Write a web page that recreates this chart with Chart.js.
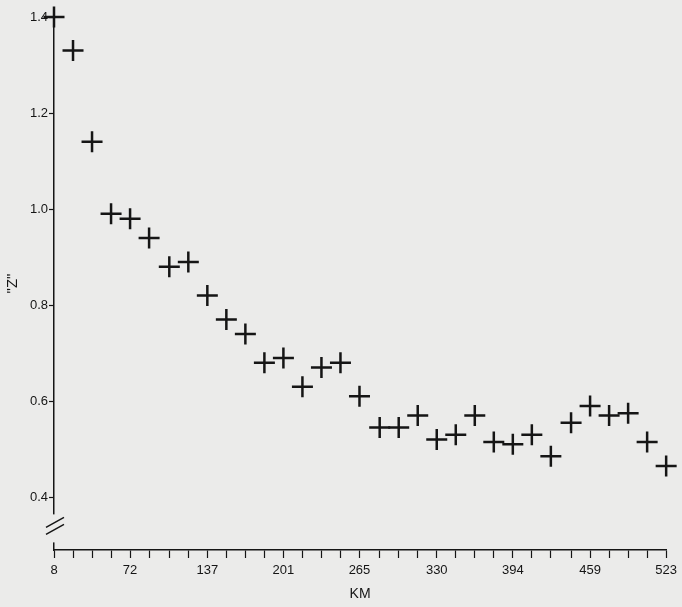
<!DOCTYPE html>
<html>

<head>
    <title>z_by_distance</title>
    <script src="https://cdn.jsdelivr.net/npm/chart.js"></script>
    <style>
        html, body {
            margin: 0;
            padding: 0;
            background: #ebebea;
        }
        #chartBox {
            width: 682px;
            height: 607px;
        }
    </style>
</head>

<body>
    <div id="chartBox"><canvas id="chartCanvas"></canvas></div>
    <script>
        // distance classes (km) and the Z value of each class
        const distanceKm = [8, 24, 40, 56, 72, 88, 105, 121, 137, 153, 169, 185, 201, 217, 233, 249, 265,
            282, 298, 314, 330, 346, 362, 378, 394, 410, 426, 443, 459, 475, 491, 507, 523];
        const zValues = [1.40, 1.33, 1.14, 0.99, 0.98, 0.94, 0.88, 0.89, 0.82, 0.77, 0.74, 0.68, 0.69,
            0.63, 0.67, 0.68, 0.61, 0.545, 0.545, 0.57, 0.52, 0.53, 0.57, 0.515, 0.51, 0.53, 0.485,
            0.555, 0.59, 0.57, 0.575, 0.515, 0.465];
        const xTickLabels = [8, 72, 137, 201, 265, 330, 394, 459, 523];
        const yTickValues = [0.4, 0.6, 0.8, 1.0, 1.2, 1.4];

        const ink = '#151515';
        const paper = '#ebebea';
        const font = { family: 'Liberation Sans, Arial, sans-serif', size: 13 };

        // axis break "//" near the bottom of the y axis
        const axisBreak = {
            id: 'axisBreak',
            afterDraw(chart) {
                const ctx = chart.ctx;
                const x = chart.scales.x.left;
                const yMid = chart.scales.y.getPixelForValue(0.335);
                ctx.save();
                ctx.fillStyle = paper;
                ctx.fillRect(x - 3, yMid - 14, 6, 28);
                ctx.strokeStyle = ink;
                ctx.lineWidth = 1.5;
                ctx.beginPath();
                ctx.moveTo(x - 8, yMid - 1);
                ctx.lineTo(x + 10, yMid - 11);
                ctx.moveTo(x - 8, yMid + 6);
                ctx.lineTo(x + 10, yMid - 4);
                ctx.stroke();
                ctx.restore();
            }
        };

        new Chart(document.getElementById('chartCanvas'), {
            type: 'scatter',
            data: {
                datasets: [{
                    data: distanceKm.map((km, i) => ({ x: km, y: zValues[i] })),
                    pointStyle: 'cross',
                    pointRadius: 10.5,
                    pointBorderWidth: 2.5,
                    borderColor: ink,
                    backgroundColor: ink,
                    clip: false
                }]
            },
            options: {
                responsive: true,
                maintainAspectRatio: false,
                animation: false,
                layout: { padding: { left: 4, right: 12, top: 17, bottom: 0 } },
                plugins: { legend: { display: false }, tooltip: { enabled: false } },
                scales: {
                    x: {
                        type: 'linear',
                        min: 8,
                        max: 523,
                        afterBuildTicks: (scale) => {
                            scale.ticks = distanceKm.map(v => ({ value: v }));
                        },
                        afterFit: (scale) => { scale.height = 57; },
                        border: { display: true, color: ink, width: 1.5 },
                        grid: { drawOnChartArea: false, color: ink, tickLength: 8, tickWidth: 1.2 },
                        ticks: {
                            color: ink,
                            font: font,
                            padding: 5,
                            maxRotation: 0,
                            autoSkip: false,
                            callback: (v) => xTickLabels.includes(v) ? String(v) : ''
                        },
                        title: {
                            display: true,
                            text: 'KM',
                            color: ink,
                            font: { family: font.family, size: 14 },
                            padding: { top: 8, bottom: 4 }
                        }
                    },
                    y: {
                        min: 0.29,
                        max: 1.4,
                        afterBuildTicks: (scale) => {
                            scale.ticks = yTickValues.map(v => ({ value: v }));
                        },
                        afterFit: (scale) => { scale.width = 50; },
                        border: { display: true, color: ink, width: 1.5 },
                        grid: { drawOnChartArea: false, color: ink, tickLength: 5, tickWidth: 1.2 },
                        ticks: {
                            color: ink,
                            font: font,
                            padding: 1,
                            callback: (v) => v.toFixed(1)
                        },
                        title: {
                            display: true,
                            text: '"Z"',
                            color: ink,
                            font: { family: font.family, size: 15 },
                            padding: { top: 0, bottom: 2 }
                        }
                    }
                }
            },
            plugins: [axisBreak]
        });
    </script>
</body>

</html>
